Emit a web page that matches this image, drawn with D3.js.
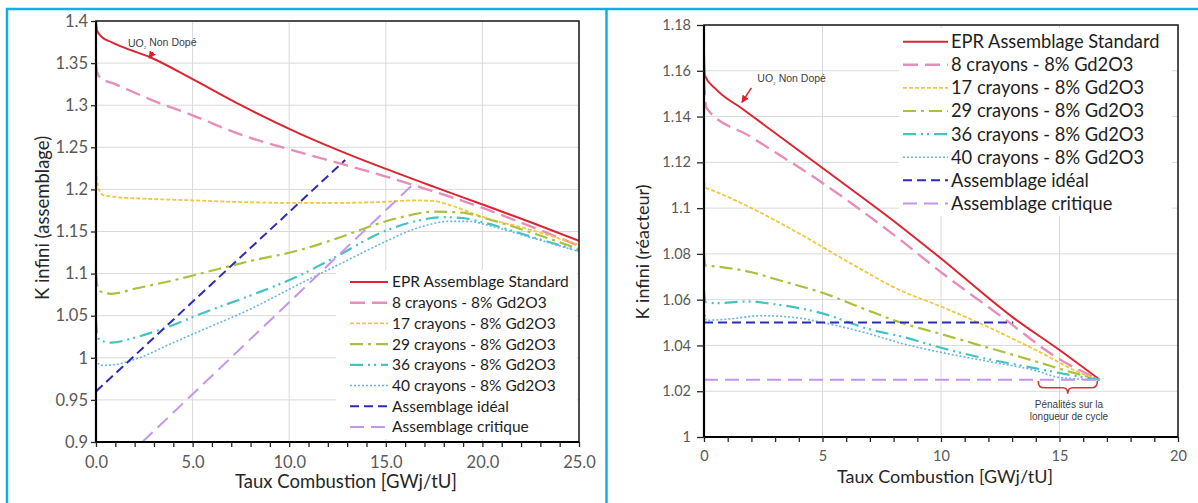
<!DOCTYPE html>
<html><head><meta charset="utf-8">
<script src="https://cdn.jsdelivr.net/npm/d3@7/dist/d3.min.js"></script>
<style>body{margin:0;background:#fff}svg{display:block}text{font-family:Lato,"Open Sans",sans-serif}</style>
</head><body>
<svg id="c" width="1198" height="503"></svg>
<script>
// ---------- DATA ----------
const seriesNames = ["EPR Assemblage Standard","8 crayons - 8% Gd2O3","17 crayons - 8% Gd2O3","29 crayons - 8% Gd2O3","36 crayons - 8% Gd2O3","40 crayons - 8% Gd2O3","Assemblage idéal","Assemblage critique"];

// Left chart: K infini (assemblage) vs Taux Combustion
const assemEPR = [[0,1.400],[0.05,1.389],[0.3,1.381],[0.8,1.375],[1.5,1.368],[2.8,1.357],[5,1.331],[7.5,1.300],[10.56,1.266],[12.5,1.247],[14.7,1.227],[17.5,1.203],[19.9,1.183],[22.5,1.161],[25,1.139]];
const assem8 = [[0,1.350],[0.05,1.340],[0.2,1.333],[1,1.325],[2.8,1.307],[5,1.288],[7.5,1.265],[10.56,1.244],[12.6,1.231],[15.2,1.214],[17,1.201],[18.5,1.190],[19.9,1.179],[22.5,1.156],[25,1.133]];
const assem17 = [[0,1.230],[0.05,1.212],[0.15,1.200],[0.4,1.193],[1,1.191],[2.5,1.189],[5,1.187],[7.5,1.185],[10,1.184],[12.5,1.184],[14.7,1.185],[16.5,1.187],[17.5,1.186],[18.5,1.180],[19.9,1.168],[22.5,1.152],[25,1.134]];
const assem29 = [[0,1.100],[0.05,1.088],[0.2,1.079],[0.8,1.076],[2,1.082],[4,1.092],[5.4,1.100],[8,1.115],[10.56,1.128],[12.5,1.142],[14.7,1.160],[16,1.168],[17.4,1.1735],[18.5,1.173],[19.2,1.1716],[20.4,1.164],[22.5,1.149],[25,1.129]];
const assem36 = [[0,1.045],[0.05,1.030],[0.2,1.021],[0.8,1.018],[2,1.024],[4,1.039],[5.4,1.052],[8,1.074],[10.56,1.098],[12.5,1.121],[14.7,1.148],[16.5,1.162],[18,1.167],[19,1.166],[20,1.161],[22.5,1.144],[25,1.127]];
const assem40 = [[0,1.003],[0.05,0.995],[0.3,0.991],[1,0.992],[2,0.998],[4,1.018],[5.4,1.032],[8,1.058],[10.56,1.088],[12.5,1.110],[14.7,1.135],[16.5,1.153],[18.3,1.162],[19.3,1.162],[20.5,1.156],[22.5,1.143],[25,1.126]];
const assemIdeal = [[0,0.960],[12.9,1.235]];
const assemCrit = [[2.4,0.900],[16.5,1.208]];
const assemXTicks = [0,5,10,15,20,25];
const assemXLabels = ["0.0","5.0","10.0","15.0","20.0","25.0"];
const assemYTicks = [0.9,0.95,1,1.05,1.1,1.15,1.2,1.25,1.3,1.35,1.4];
const assemYLabels = ["0.9","0.95","1","1.05","1.1","1.15","1.2","1.25","1.3","1.35","1.4"];

// Right chart: K infini (réacteur) vs Taux Combustion
const reacEPR = [[0,1.168],[0.03,1.158],[0.5,1.152],[1.6,1.1435],[5,1.1175],[8.3,1.092],[10,1.078],[13,1.0525],[15,1.038],[16.7,1.025]];
const reac8 = [[0,1.156],[0.1,1.1437],[2,1.131],[5,1.111],[8.3,1.086],[10,1.072],[12.5,1.053],[15,1.034],[16.7,1.025]];
const reac17 = [[0,1.114],[0.05,1.109],[0.3,1.108],[2,1.100],[4,1.089],[6,1.077],[8.3,1.064],[10,1.057],[12,1.048],[14,1.038],[16,1.0275],[16.7,1.025]];
const reac29 = [[0,1.080],[0.05,1.075],[0.5,1.0745],[2,1.072],[3,1.069],[5,1.063],[7,1.055],[8.3,1.050],[10,1.045],[12,1.039],[14,1.033],[15.6,1.028],[16.7,1.025]];
const reac36 = [[0,1.064],[0.05,1.059],[0.5,1.0585],[1.8,1.0592],[3,1.058],[5,1.054],[7,1.047],[8.3,1.044],[10,1.039],[12,1.034],[14,1.030],[15.5,1.027],[16.7,1.025]];
const reac40 = [[0,1.057],[0.1,1.051],[1,1.0515],[2.4,1.053],[4,1.052],[5,1.050],[7,1.045],[8.3,1.041],[10,1.037],[12,1.033],[14,1.029],[15,1.026],[16.7,1.025]];
const reacIdeal = [[0,1.05],[13.05,1.05]];
const reacCrit = [[0,1.025],[16.7,1.025]];
const reacXTicks = [0,5,10,15,20];
const reacXLabels = ["0","5","10","15","20"];
const reacYTicks = [1,1.02,1.04,1.06,1.08,1.1,1.12,1.14,1.16,1.18];
const reacYLabels = ["1","1.02","1.04","1.06","1.08","1.1","1.12","1.14","1.16","1.18"];

const xTitle = "Taux Combustion [GWj/tU]";
const yTitleLeft = "K infini (assemblage)";
const yTitleRight = "K infini (réacteur)";
const annotUO2 = ["UO","₂"," Non Dopé"];
const annotPenal = ["Pénalités sur la","longueur de cycle"];

// ---------- STYLES ----------
const styles = [
  {c:"#DE2430", w:2,   d:null},
  {c:"#E88DBA", w:2.4, d:"15,7"},
  {c:"#F2C73E", w:1.8, d:"4,2"},
  {c:"#A9C23C", w:2.2, d:"13,5,3,5"},
  {c:"#45C3C0", w:2.2, d:"13,5,2,4,2,5"},
  {c:"#68B4EC", w:1.6, d:"2,2"},
  {c:"#2C2CB4", w:2,   d:"9,5"},
  {c:"#C595EE", w:2,   d:"14,7"}
];

const svg = d3.select("#c");
svg.append("rect").attr("width",1198).attr("height",503).attr("fill","#fff");

// panel borders
const border = "#12AEEA";
svg.append("line").attr("x1",6).attr("x2",1198).attr("y1",9).attr("y2",9).attr("stroke",border).attr("stroke-width",2.5);
svg.append("line").attr("x1",7).attr("x2",7).attr("y1",8).attr("y2",503).attr("stroke",border).attr("stroke-width",2.5);
svg.append("line").attr("x1",606.5).attr("x2",606.5).attr("y1",8).attr("y2",503).attr("stroke",border).attr("stroke-width",2.5);

function panel(cfg){
  const g = svg.append("g");
  const x = d3.scaleLinear().domain(cfg.xDomain).range([cfg.x0,cfg.x1]);
  const y = d3.scaleLinear().domain(cfg.yDomain).range([cfg.y1,cfg.y0]);
  g.selectAll(".gx").data(cfg.xTicks).join("line")
    .attr("x1",d=>x(d)).attr("x2",d=>x(d)).attr("y1",cfg.y0).attr("y2",cfg.y1)
    .attr("stroke","#D9D9D9").attr("stroke-width",1);
  g.selectAll(".gy").data(cfg.yTicks).join("line")
    .attr("x1",cfg.x0).attr("x2",cfg.x1).attr("y1",d=>y(d)).attr("y2",d=>y(d))
    .attr("stroke","#D9D9D9").attr("stroke-width",1);
  const clipId = "clip"+cfg.id;
  g.append("clipPath").attr("id",clipId).append("rect")
    .attr("x",cfg.x0).attr("y",cfg.y0-2).attr("width",cfg.x1-cfg.x0).attr("height",cfg.y1-cfg.y0+2);
  const L = cfg.legend;
  const line = d3.line().x(d=>x(d[0])).y(d=>y(d[1])).curve(d3.curveMonotoneX);
  const lines = g.append("g").attr("clip-path",`url(#${clipId})`);
  cfg.series.forEach((s,i)=>{
    const st = styles[i];
    lines.append("path").datum(s).attr("d",line).attr("fill","none")
      .attr("stroke",st.c).attr("stroke-width",st.w)
      .attr("stroke-dasharray",st.d).attr("stroke-linejoin","round");
  });
  const lg = g.append("g");
  lg.append("rect").attr("x",L.bx0).attr("y",L.by0).attr("width",L.bx1-L.bx0).attr("height",L.by1-L.by0).attr("fill","#fff");
  seriesNames.forEach((n,i)=>{
    const st = styles[i];
    const yy = L.y + i*L.dy;
    lg.append("line").attr("x1",L.lx0).attr("x2",L.lx1).attr("y1",yy).attr("y2",yy)
      .attr("stroke",st.c).attr("stroke-width",st.w).attr("stroke-dasharray",st.d);
    lg.append("text").attr("x",L.tx).attr("y",yy).attr("dy","0.35em")
      .attr("font-size",L.fs).attr("fill","#1e1e1e").text(n);
  });
  g.append("rect").attr("x",cfg.x0).attr("y",cfg.y0).attr("width",cfg.x1-cfg.x0).attr("height",cfg.y1-cfg.y0)
    .attr("fill","none").attr("stroke","#262626").attr("stroke-width",1.6);
  g.append("line").attr("x1",cfg.x0).attr("x2",cfg.x0).attr("y1",cfg.y0).attr("y2",cfg.y1+1).attr("stroke","#000").attr("stroke-width",2.2);
  g.append("line").attr("x1",cfg.x0-1).attr("x2",cfg.x1).attr("y1",cfg.y1).attr("y2",cfg.y1).attr("stroke","#000").attr("stroke-width",2.2);
  const ya = g.append("g").attr("transform",`translate(${cfg.x0},0)`)
    .call(d3.axisLeft(y).tickValues(cfg.yTicks).tickFormat((d,i)=>cfg.yLabels[i]).tickSize(cfg.yTickLen).tickPadding(cfg.yPad));
  ya.select(".domain").remove();
  ya.selectAll("line").attr("stroke","#262626").attr("stroke-width",1.3);
  ya.selectAll("text").attr("font-size",cfg.tickFs).attr("fill","#595959").style("font-family","Lato");
  const xm = g.append("g").attr("transform",`translate(0,${cfg.y1})`)
    .call(d3.axisBottom(x).tickValues(d3.range(cfg.xDomain[0],cfg.xDomain[1]+0.001,1)).tickFormat("").tickSize(5));
  xm.select(".domain").remove();
  xm.selectAll("line").attr("stroke","#262626").attr("stroke-width",1.3);
  const xa = g.append("g").attr("transform",`translate(0,${cfg.y1})`)
    .call(d3.axisBottom(x).tickValues(cfg.xTicks).tickFormat((d,i)=>cfg.xLabels[i]).tickSize(0).tickPadding(cfg.xPad));
  xa.select(".domain").remove();
  xa.selectAll("text").attr("font-size",cfg.tickFs).attr("fill","#595959").style("font-family","Lato");
  g.append("text").attr("x",cfg.xtX).attr("y",cfg.xtY).attr("text-anchor","middle").attr("dy","0.35em")
    .attr("font-size",cfg.titleFs).attr("fill","#262626").text(xTitle);
  g.append("text").attr("transform",`translate(${cfg.ytX},${cfg.ytY}) rotate(-90)`).attr("text-anchor","middle").attr("dy","0.35em")
    .attr("font-size",cfg.titleFs).attr("fill","#262626").text(cfg.yTitle);
  return {x,y,g};
}

const left = panel({
  id:"L", xDomain:[0,25], yDomain:[0.9,1.4], x0:96, x1:579, y0:21, y1:442,
  xTicks:assemXTicks, xLabels:assemXLabels, yTicks:assemYTicks, yLabels:assemYLabels,
  series:[assemEPR,assem8,assem17,assem29,assem36,assem40,assemIdeal,assemCrit],
  legend:{bx0:336,bx1:577,by0:270,by1:439,y:282,dy:20.7,lx0:350,lx1:388,tx:392,fs:15.5},
  yTickLen:5, yPad:3, xPad:14, tickFs:16.5, titleFs:18.5,
  xtX:346, xtY:482, ytX:43, ytY:218, yTitle:yTitleLeft
});
const right = panel({
  id:"R", xDomain:[0,20], yDomain:[1,1.18], x0:704, x1:1178, y0:25, y1:437,
  xTicks:reacXTicks, xLabels:reacXLabels, yTicks:reacYTicks, yLabels:reacYLabels,
  series:[reacEPR,reac8,reac17,reac29,reac36,reac40,reacIdeal,reacCrit],
  legend:{bx0:899,bx1:1172,by0:28,by1:216,y:41.7,dy:23.1,lx0:903,lx1:948,tx:951,fs:18.3},
  yTickLen:7, yPad:6, xPad:14, tickFs:14.5, titleFs:18,
  xtX:945, xtY:477, ytX:643, ytY:252, yTitle:yTitleRight
});

// annotations
svg.append("defs").append("marker").attr("id","arr").attr("viewBox","0 0 10 10").attr("refX",9).attr("refY",5)
  .attr("markerWidth",5).attr("markerHeight",5).attr("orient","auto")
  .append("path").attr("d","M0,0L10,5L0,10z").attr("fill","#E0202E");
function uo2(px,py,fs){
  const t = svg.append("text").attr("x",px).attr("y",py).attr("dy","0.35em").attr("font-size",fs)
    .attr("fill","#404040").style("font-family","'Liberation Sans',Arial,sans-serif");
  t.append("tspan").text(annotUO2[0]);
  t.append("tspan").attr("font-size",fs*0.65).attr("dy","0.25em").text(annotUO2[1]);
  t.append("tspan").attr("dy","-0.18em").text(annotUO2[2]);
}
uo2(left.x(1.65), left.y(1.374), 10.5);
svg.append("line").attr("x1",left.x(2.95)).attr("y1",left.y(1.363)).attr("x2",left.x(2.75)).attr("y2",left.y(1.356))
  .attr("stroke","#E0202E").attr("stroke-width",1.5).attr("marker-end","url(#arr)");
uo2(right.x(2.25), right.y(1.1565), 10.5);
svg.append("line").attr("x1",right.x(2.0)).attr("y1",right.y(1.1525)).attr("x2",right.x(1.6)).attr("y2",right.y(1.1462))
  .attr("stroke","#E0202E").attr("stroke-width",1.5).attr("marker-end","url(#arr)");

const bx0 = right.x(14.1), bx1 = right.x(16.6), bm = right.x(15.35), by = right.y(1.0215), byt = right.y(1.0245);
svg.append("path").attr("d",`M${bx0},${byt} Q${bx0},${by} ${bx0+6},${by} L${bm-5},${by} Q${bm},${by} ${bm},${by+6} Q${bm},${by} ${bm+5},${by} L${bx1-6},${by} Q${bx1},${by} ${bx1},${byt}`)
  .attr("fill","none").attr("stroke","#D8323C").attr("stroke-width",1.6);
annotPenal.forEach((s,i)=>{
  svg.append("text").attr("x",right.x(15.4)).attr("y",right.y(1.0142)+i*12).attr("dy","0.35em").attr("text-anchor","middle")
    .attr("font-size",10).attr("fill","#404040").style("font-family","'Liberation Sans',Arial,sans-serif").text(s);
});
</script>
</body></html>
